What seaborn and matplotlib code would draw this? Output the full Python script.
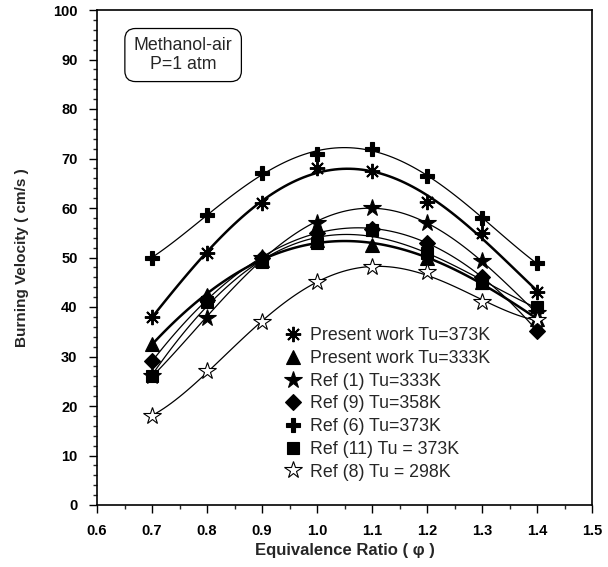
import numpy as np
import pandas as pd
import matplotlib
matplotlib.use("Agg")
import matplotlib.pyplot as plt
from matplotlib.lines import Line2D
from matplotlib.ticker import MultipleLocator, FormatStrFormatter
import seaborn as sns

sns.set_style("ticks")
plt.rcParams['font.family'] = ['Liberation Sans', 'DejaVu Sans']

# Equivalence ratio and burning velocities (cm/s)
phi = [0.7, 0.8, 0.9, 1.0, 1.1, 1.2, 1.3, 1.4]
present_373 = [38, 51, 61, 68, 67.5, 61.2, 55, 43]
present_333 = [32.5, 42.5, 49.5, 53.5, 52.5, 49.8, 45, 37.5]
ref1_333 = [26, 37.8, 50, 57, 60, 57, 49.2, 38.7]
ref9_358 = [29, 41.5, 50, 55, 55.8, 53, 46, 35.2]
ref6_373 = [50, 58.5, 67, 71, 72, 66.5, 58, 48.8]
ref11_373 = [26, 41, 49, 53, 55.5, 51, 44.8, 40]
ref8_298 = [18, 27, 37, 45, 48, 47, 41, 37.4]

series = [
    ("Present work Tu=373K", present_373, (8, 2, 0), 1.8, True),
    ("Present work Tu=333K", present_333, "^", 1.8, True),
    ("Ref (1) Tu=333K", ref1_333, "*", 0.9, True),
    ("Ref (9) Tu=358K", ref9_358, "D", 0.9, True),
    ("Ref (6) Tu=373K", ref6_373, "P", 0.9, True),
    ("Ref (11) Tu = 373K", ref11_373, "s", 0.9, True),
    ("Ref (8) Tu = 298K", ref8_298, "*", 0.9, False),
]
marker_size = {(8, 2, 0): 11, "^": 10, "*": 13, "D": 8, "P": 10, "s": 8}

fig = plt.figure(figsize=(6.08, 5.67), dpi=100)
ax = fig.add_axes([97 / 608, 1 - 505 / 567, 495 / 608, 495 / 567])

handles = []
for label, vals, mk, lw, filled in series:
    df = pd.DataFrame({"phi": phi, "v": vals})
    sns.regplot(data=df, x="phi", y="v", order=4, ci=None, scatter=False,
                truncate=True, ax=ax, line_kws=dict(color="black", lw=lw))
    ms = marker_size[mk]
    fc = "black" if filled else "white"
    mew = 1.4 if mk == (8, 2, 0) else 0.8
    ax.plot(phi, vals, linestyle="none", marker=mk, markersize=ms,
            markerfacecolor=fc, markeredgecolor="black", markeredgewidth=mew,
            zorder=4)
    handles.append(Line2D([], [], linestyle="none", marker=mk, markersize=ms,
                          markerfacecolor=fc, markeredgecolor="black",
                          markeredgewidth=mew, label=label))

ax.set_xlim(0.6, 1.5)
ax.set_ylim(0, 100)
ax.xaxis.set_major_locator(MultipleLocator(0.1))
ax.xaxis.set_minor_locator(MultipleLocator(0.05))
ax.yaxis.set_major_locator(MultipleLocator(10))
ax.yaxis.set_minor_locator(MultipleLocator(2))
ax.xaxis.set_major_formatter(FormatStrFormatter("%.1f"))
ax.tick_params(which="major", direction="out", length=6, width=1,
               labelsize=10.5, pad=8, colors="black")
ax.tick_params(which="minor", direction="out", length=3, width=1)
for t in ax.get_xticklabels() + ax.get_yticklabels():
    t.set_fontweight("bold")
for s in ax.spines.values():
    s.set_visible(True)
    s.set_linewidth(1.2)
    s.set_color("black")

ax.set_xlabel("Equivalence Ratio ( \u03c6 )", fontsize=12, fontweight="bold",
              labelpad=3)
ax.set_ylabel("Burning Velocity ( cm/s )", fontsize=11, fontweight="bold",
              labelpad=17)

ax.text(0.174, 0.909, "Methanol-air\nP=1 atm", transform=ax.transAxes,
        ha="center", va="center", fontsize=12.8, linespacing=1.1,
        bbox=dict(boxstyle="round,pad=0.5,rounding_size=0.6",
                  facecolor="white", edgecolor="black", lw=0.9))

ax.legend(handles=handles, loc="lower left", bbox_to_anchor=(0.363, 0.035),
          frameon=False, fontsize=12.8, handletextpad=0.5,
          labelspacing=0.32, borderaxespad=0, handlelength=1.0)

fig.savefig("out.png", dpi=100)
